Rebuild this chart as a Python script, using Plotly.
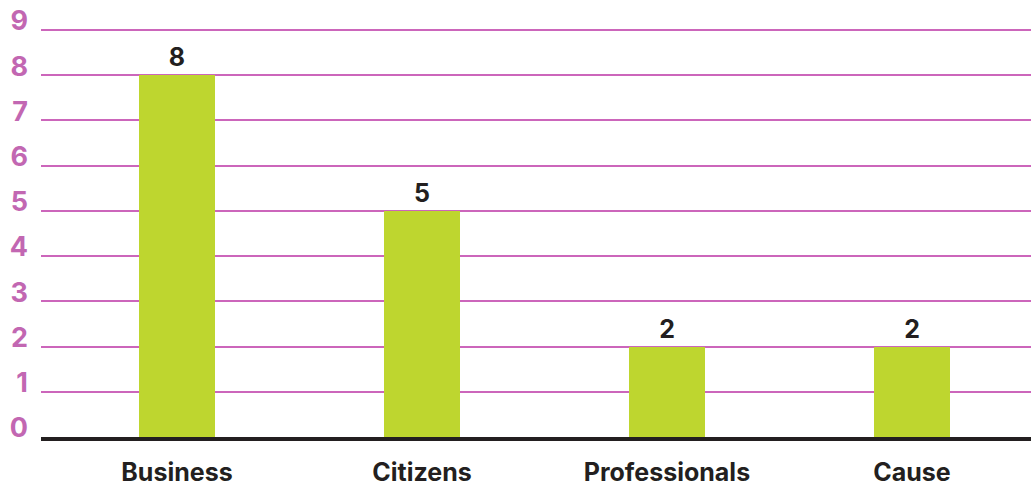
import plotly.graph_objects as go

categories = ["Business", "Citizens", "Professionals", "Cause"]
counts = [8, 5, 2, 2]
y_ticks = list(range(0, 10))

BAR_GREEN = "#bed62f"
MAGENTA = "#c267b2"
GRID = "#cc66bb"
INK = "#231f20"
FONT = "Inter"

fig = go.Figure(
    go.Bar(
        x=list(range(len(categories))),
        y=counts,
        width=0.31,
        marker=dict(color=BAR_GREEN, line=dict(width=0)),
        text=[str(v) for v in counts],
        textposition="outside",
        textfont=dict(family=FONT, size=25, color=INK, weight=700),
        cliponaxis=False,
    )
)

fig.update_layout(
    width=1031,
    height=487,
    margin=dict(l=41, r=0, t=28, b=50),
    paper_bgcolor="white",
    plot_bgcolor="white",
    showlegend=False,
    bargap=0,
    xaxis=dict(
        range=[-0.555, 3.486],
        tickmode="array",
        tickvals=list(range(len(categories))),
        ticktext=categories,
        tickfont=dict(family=FONT, size=25, color=INK, weight=700),
        showgrid=False,
        zeroline=False,
        showline=True,
        linecolor=INK,
        linewidth=4,
        ticks="",
        ticklabelstandoff=10,
        automargin=False,
        fixedrange=True,
    ),
    yaxis=dict(
        range=[0, 9.04],
        tickmode="array",
        tickvals=y_ticks,
        ticktext=[str(t) for t in y_ticks],
        tickfont=dict(family=FONT, size=27, color=MAGENTA, weight=700),
        showgrid=True,
        gridcolor=GRID,
        gridwidth=1.5,
        zeroline=False,
        showline=False,
        ticks="",
        ticklabelstandoff=12,
        ticklabelshift=-9,
        automargin=False,
        fixedrange=True,
    ),
)

fig.write_html("out.html")
